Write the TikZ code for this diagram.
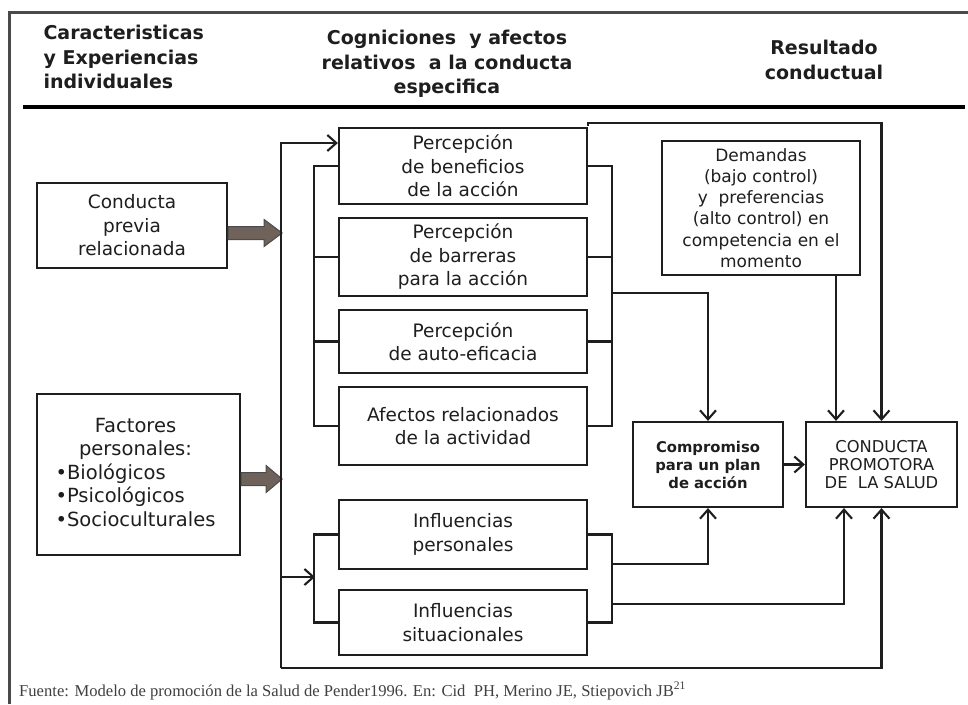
\documentclass[tikz,border=0pt]{standalone}
\usepackage{fontspec}
\setmainfont{DejaVu Sans}
\newfontfamily\fnfont{Liberation Serif}
\usetikzlibrary{arrows.meta}
\definecolor{fatc}{HTML}{6E625B}
\definecolor{ink}{HTML}{1E1E1E}
\definecolor{framec}{HTML}{4A4A4A}
\begin{document}
\begin{tikzpicture}[x=1pt,y=-1pt,
  box/.style={draw=ink, line width=2.2pt, inner sep=0pt, align=center,
    font=\fontsize{18.5}{23.5}\selectfont, text=ink},
  conn/.style={line width=2.1pt, draw=ink},
  arr/.style={conn, -{Straight Barb[length=9pt,width=16pt,line width=2.1pt]}},
  fat/.style={draw=ink!80, line width=1pt, fill=fatc},
  hdr/.style={font=\bfseries\fontsize{19}{24.5}\selectfont, text=ink}]
\useasboundingbox (0,0) rectangle (968,704);
\fill[white] (0,0) rectangle (968,704);
% frame
\draw[framec, line width=3pt] (9,704) -- (9,12) -- (968,12);
% header
\node[hdr, align=left, anchor=west] (h1) at (40,57) {Caracteristicas\\y Experiencias\\individuales};
\node[hdr, align=center] (h2) at (447,64) {Cogniciones\ \ y afectos\\relativos\ \ a la conducta\\especifica};
\node[hdr, align=center] (h3) at (824,60) {Resultado\\conductual};
\draw[black, line width=4pt] (23,107) -- (965,107);

% left boxes
\node[box, minimum width=190pt, minimum height=85pt] (prev) at (132,225.5) {Conducta\\previa\\relacionada};
\node[box, minimum width=203pt, minimum height=161pt, font=\fontsize{19.5}{23.5}\selectfont] (fact) at (138.5,474.5)
  {\hspace*{-6pt}\begin{tabular}{@{}l@{}}\multicolumn{1}{@{}c@{}}{Factores}\\\multicolumn{1}{@{}c@{}}{personales:}\\•Biológicos\\•Psicológicos\\•Socioculturales\end{tabular}};

% middle boxes
\node[box, minimum width=248pt, minimum height=76pt] (ben) at (463,166) {Percepción\\de beneficios\\de la acción};
\node[box, minimum width=248pt, minimum height=78pt] (bar) at (463,257) {Percepción\\de barreras\\para la acción};
\node[box, minimum width=248pt, minimum height=63pt] (auto) at (463,341.5) {Percepción\\de auto-eficacia};
\node[box, minimum width=248pt, minimum height=78pt] (afe) at (463,426) {Afectos relacionados\\de la actividad};
\node[box, minimum width=248pt, minimum height=69pt] (ipers) at (463,534.5) {Influencias\\personales};
\node[box, minimum width=248pt, minimum height=65pt] (isit) at (463,622.5) {Influencias\\situacionales};

% right boxes
\node[box, minimum width=198pt, minimum height=134pt, font=\fontsize{17}{21.2}\selectfont] (dem) at (761,208)
  {Demandas\\(bajo control)\\y\ \ preferencias\\(alto control) en\\competencia en el\\momento};
\node[box, minimum width=150pt, minimum height=85pt, font=\bfseries\fontsize{14.8}{18}\selectfont] (comp) at (708,464.5)
  {Compromiso\\para un plan\\de acción};
\node[box, minimum width=151pt, minimum height=85pt, font=\fontsize{16.3}{18}\selectfont] (cps) at (881.5,464.5)
  {CONDUCTA\\PROMOTORA\\DE\ \ LA SALUD};

% thick arrows
\coordinate (pa) at ([yshift=-7.5pt]prev.east);
\draw[fat] (pa) ++(0,-6.5) -- ++(36,0) -- ++(0,-7) -- ++(18,13.5) -- ++(-18,13.5) -- ++(0,-7) -- ++(-36,0) -- cycle;
\coordinate (fa) at ([yshift=-4.5pt]fact.east);
\draw[fat] (fa) ++(0,-6.5) -- ++(25,0) -- ++(0,-7) -- ++(16,13.5) -- ++(-16,13.5) -- ++(0,-7) -- ++(-25,0) -- cycle;

% outer bus
\coordinate (busB) at (281,668);
\coordinate (busI) at (281,577);
\draw[arr] (busB) |- ([yshift=23pt]ben.west);
\draw[arr] (busB) -| (cps.south);
\draw[arr] (busI) -- (315,577);

% cognition brackets
\draw[conn] (ben.west) -- ++(-24,0) |- (afe.west);
\draw[conn] (bar.west) -- ++(-24,0);
\draw[conn] (auto.west) -- ++(-24,0);
\draw[conn] (ben.east) -- ++(24,0) |- (afe.east);
\draw[conn] (bar.east) -- ++(24,0);
\draw[conn] (auto.east) -- ++(24,0);
\coordinate (rb) at (611,293);
\draw[arr] (rb) -| (comp.north);

% influence brackets
\draw[conn] (ipers.west) -- ++(-24,0) |- (isit.west);
\draw[conn] (ipers.east) -- ++(24,0) |- (isit.east);
\coordinate (ri1) at (611,564);
\coordinate (ri2) at (611,604);
\draw[arr] (ri1) -| (comp.south);
\draw[arr] (ri2) -| ([xshift=-37.5pt]cps.south);

% top line and demands
\draw[arr] ([yshift=1pt]ben.north east) -- ++(0,-3) -| (cps.north);
\draw[arr] ([xshift=75pt]dem.south) -- ([xshift=-45.5pt]cps.north);
\draw[arr] (comp.east) -- (cps.west);

% footnote
\node[anchor=west, inner sep=0pt, font=\fnfont\fontsize{16.6}{18}\selectfont, text=ink!85] (fn) at (19,691)
  {Fuente: Modelo de promoción de la Salud de Pender1996. En: Cid\ \ PH, Merino JE, Stiepovich JB\textsuperscript{21}};
\end{tikzpicture}
\end{document}
